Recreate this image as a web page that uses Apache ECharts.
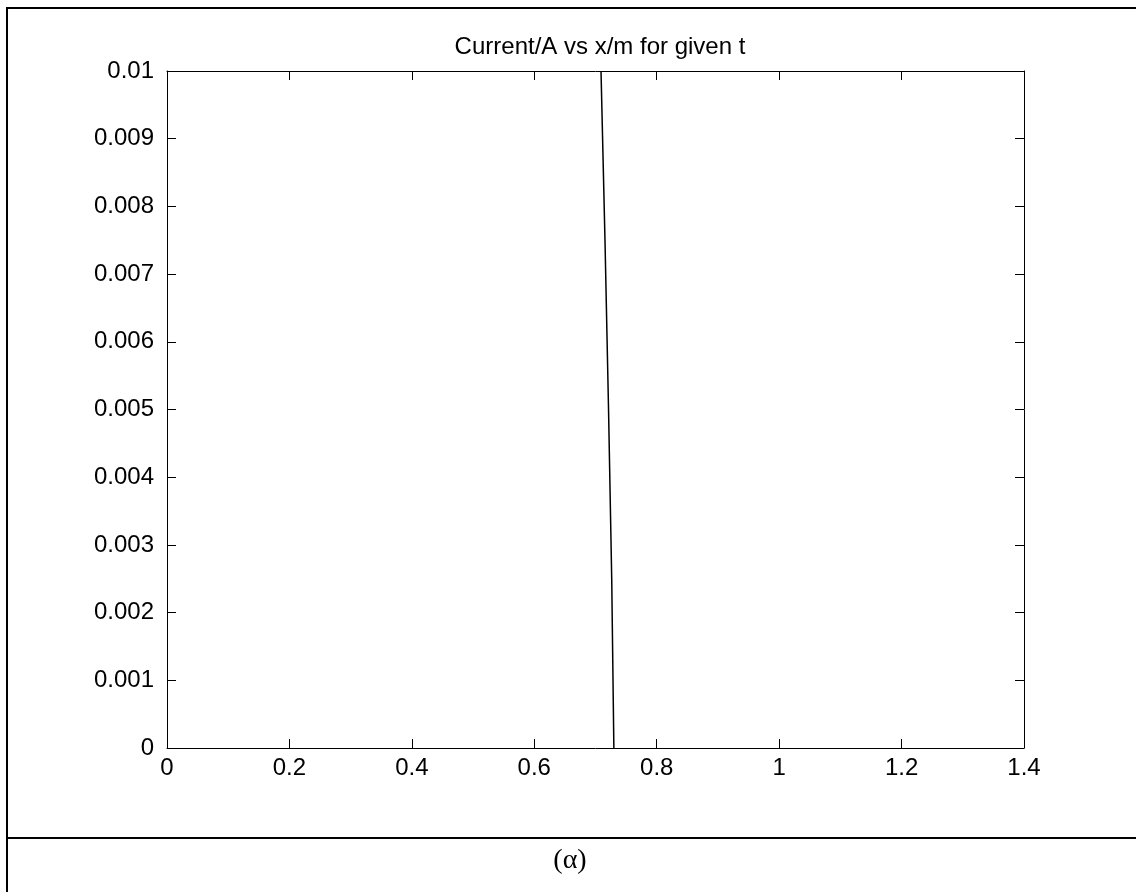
<!DOCTYPE html>
<html>
<head>
<meta charset="utf-8">
<script src="https://cdn.jsdelivr.net/npm/echarts@6/dist/echarts.min.js"></script>
<style>
html,body{margin:0;padding:0;background:#fff;}
#c{width:1136px;height:892px;}
</style>
</head>
<body>
<div id="c"></div>
<script>
var titleText = 'Current/A vs x/m for given t';
var captionText = '(α)';
var xTicks = [0, 0.2, 0.4, 0.6, 0.8, 1, 1.2, 1.4];
var yTicks = [0, 0.001, 0.002, 0.003, 0.004, 0.005, 0.006, 0.007, 0.008, 0.009, 0.01];
var xValues = [0.730, 0.7265, 0.7213, 0.7155, 0.709];
var yValues = [0, 0.0025, 0.005, 0.0075, 0.01];

var chart = echarts.init(document.getElementById('c'), null, {renderer: 'canvas'});
var font = 'Liberation Sans';
var axisCommon = {
  axisLine: {show: true, onZero: false, lineStyle: {color: '#000', width: 1}},
  axisTick: {show: true, inside: true, length: 9, lineStyle: {color: '#000', width: 1}},
  splitLine: {show: false}
};
chart.setOption({
  animation: false,
  backgroundColor: '#fff',
  title: {
    text: titleText, left: 595, top: 30, textAlign: 'center',
    textStyle: {fontFamily: font, fontSize: 24, fontWeight: 'normal', color: '#000'}
  },
  grid: {left: 167, right: 112, top: 71, bottom: 144, containLabel: false},
  xAxis: [
    Object.assign({type: 'value', position: 'bottom', min: 0, max: 1.4, interval: 0.2,
      axisLabel: {fontFamily: font, fontSize: 24, color: '#000', margin: 8,
        formatter: function (v) { return String(Math.round(v * 10) / 10); }}}, axisCommon),
    Object.assign({type: 'value', position: 'top', min: 0, max: 1.4, interval: 0.2,
      axisLabel: {show: false}}, axisCommon)
  ],
  yAxis: [
    Object.assign({type: 'value', position: 'left', min: 0, max: 0.01, interval: 0.001,
      axisLabel: {fontFamily: font, fontSize: 24, color: '#000', margin: 13,
        formatter: function (v) { return String(Math.round(v * 1000) / 1000); }}}, axisCommon),
    Object.assign({type: 'value', position: 'right', min: 0, max: 0.01, interval: 0.001,
      axisLabel: {show: false}}, axisCommon)
  ],
  series: [{
    type: 'line', xAxisIndex: 0, yAxisIndex: 0, symbol: 'none', clip: true,
    lineStyle: {color: '#000', width: 1.5},
    data: xValues.map(function (x, i) { return [x, yValues[i]]; })
  }],
  graphic: [
    {type: 'rect', shape: {x: 6, y: 7, width: 1130, height: 2}, style: {fill: '#000'}, silent: true},
    {type: 'rect', shape: {x: 6, y: 7, width: 2, height: 885}, style: {fill: '#000'}, silent: true},
    {type: 'rect', shape: {x: 6, y: 837, width: 1130, height: 2}, style: {fill: '#000'}, silent: true},
    {type: 'text', x: 570, y: 861, style: {text: captionText, fontFamily: 'Liberation Serif', fontSize: 28,
      fill: '#000', align: 'center', verticalAlign: 'middle'}, silent: true}
  ]
});
</script>
</body>
</html>
